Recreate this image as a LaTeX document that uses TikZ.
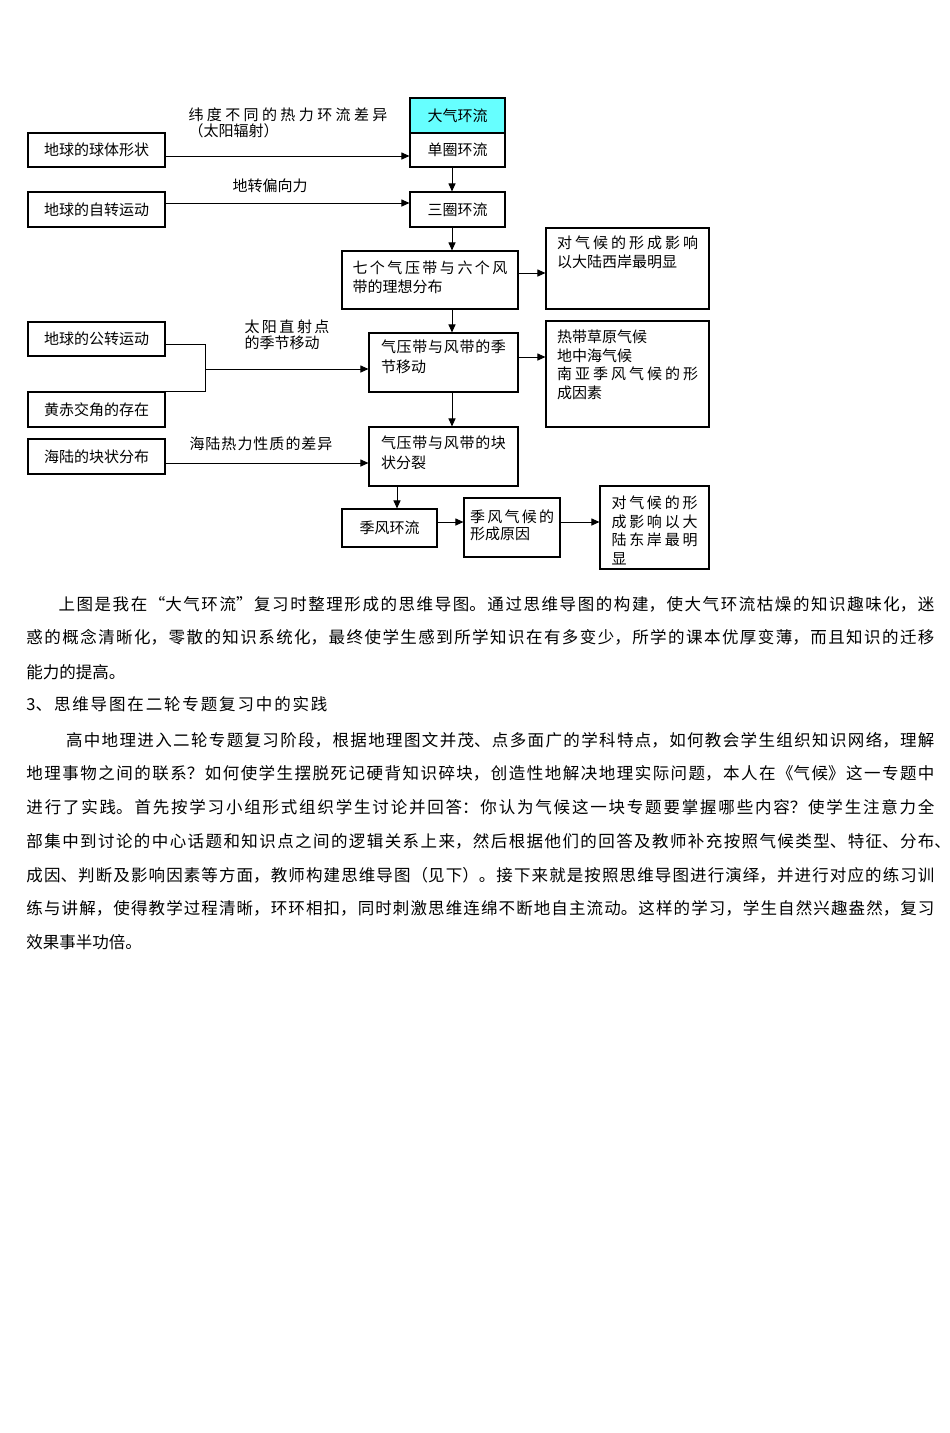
\documentclass[tikz,border=0pt]{standalone}
\usepackage{fontspec}
\setmainfont{Noto Sans CJK SC}
\usetikzlibrary{arrows.meta}

\XeTeXlinebreaklocale "zh"
\definecolor{titlecyan}{RGB}{102,255,255}
\newcommand\boxfont{\fontsize{15pt}{18.5pt}\selectfont}
\newcommand\bodyfont{\fontsize{16.5pt}{20pt}\selectfont}
% one line spread out to a given width
\newcommand\jl[2]{\parbox[t]{#1}{\XeTeXlinebreakskip=0pt plus 1fil\parfillskip=0pt\relax #2}}

\tikzset{
	box/.style={draw, line width=1.1pt, inner sep=0pt, font=\boxfont},
	lbl/.style={inner sep=0pt, font=\boxfont, align=left},
	body/.style={anchor=base west, inner sep=0pt, font=\bodyfont}
}

\begin{document}
\begin{tikzpicture}[x=1pt, y=-1pt, >={Triangle[length=8pt,width=7pt]}, line width=1pt]
	
	\fill[white] (0,0) rectangle (950,1433);
	\useasboundingbox (0,0) rectangle (950,1433);
	
	%causes on the left
	\node[box, minimum width=137pt, minimum height=34pt] (shape) at (96.5,150){地球的球体形状};
	\node[box, minimum width=137pt, minimum height=35pt] (rotation) at (96.5,209.5){地球的自转运动};
	\node[box, minimum width=137pt, minimum height=34pt] (revolution) at (96.5,339){地球的公转运动};
	\node[box, minimum width=137pt, minimum height=35pt] (obliquity) at (96.5,409.5){黄赤交角的存在};
	\node[box, minimum width=137pt, minimum height=35pt] (landsea) at (96.5,456.5){海陆的块状分布};
	
	%main chain
	\node[box, fill=titlecyan, minimum width=95pt, minimum height=35pt] (title) at (457.5,115.5){大气环流};
	\node[box, minimum width=95pt, minimum height=34pt] (single) at (457.5,150){单圈环流};
	\node[box, minimum width=95pt, minimum height=35pt] (three) at (457.5,209.5){三圈环流};
	\node[box, minimum width=176pt, minimum height=58pt, text width=155pt, align=left, text depth=25.2pt] (ideal) at (430,280){\jl{155pt}{七个气压带与六个风}\\带的理想分布};
	\node[box, minimum width=149pt, minimum height=59pt, text width=125pt, align=left, text depth=32.2pt] (season) at (443.5,362.5){\jl{125pt}{气压带与风带的季}\\[1.5pt]节移动};
	\node[box, minimum width=149pt, minimum height=59pt, text width=125pt, align=left, text depth=28.2pt] (split) at (443.5,456.5){\jl{125pt}{气压带与风带的块}\\[1.5pt]状分裂};
	\node[box, minimum width=95pt, minimum height=38pt] (monsoon) at (389.5,528){季风环流};
	
	%effects on the right
	\node[box, minimum width=163pt, minimum height=81pt, text width=141pt, align=left, text depth=52.2pt] (westcoast) at (627.5,268.5){\jl{141pt}{对气候的形成影响}\\以大陆西岸最明显};
	\node[box, minimum width=163pt, minimum height=106pt, text width=141pt, align=left, text depth=75.2pt] (climates) at (627.5,374){热带草原气候\\地中海气候\\\jl{141pt}{南亚季风气候的形}\\成因素};
	\node[box, minimum width=96pt, minimum height=59pt, text width=84pt, align=left, text depth=22.2pt] (moncause) at (512,527.5){\jl{84pt}{季风气候的}\\[-1.5pt]形成原因};
	\node[box, minimum width=109pt, minimum height=83pt, text width=86pt, align=left, text depth=50.2pt] (eastcoast) at (654.5,527.5){\jl{86pt}{对气候的形}\\\jl{86pt}{成影响以大}\\\jl{86pt}{陆东岸最明}\\显};
	
	%arrow labels
	\node[lbl, anchor=west] (latitude) at (188,122.5){\jl{199pt}{纬度不同的热力环流差异}\\[-2.5pt]（太阳辐射）};
	\node[lbl, anchor=west] (coriolis) at (232,185.5){地转偏向力};
	\node[lbl, anchor=west] (subsolar) at (244,335){\jl{85pt}{太阳直射点}\\[-2.5pt]的季节移动};
	\node[lbl, anchor=west] (thermal) at (189,443.5){\jl{143pt}{海陆热力性质的差异}};
	
	%connectors
	\draw[->] ([yshift=-6pt]shape.east) -- ([yshift=-6pt]single.west);
	\draw[->] ([yshift=6.5pt]rotation.east) -- ([yshift=6.5pt]three.west);
	\draw[->] ([xshift=-5.5pt]single.south) -- ([xshift=-5.5pt]three.north);
	\draw[->] ([xshift=-5.5pt]three.south) -- ([xshift=-5.5pt]three.south |- ideal.north);
	\draw[->] ([xshift=22pt]ideal.south) -- ([xshift=22pt]ideal.south |- season.north);
	\draw[->] ([xshift=8.5pt]season.south) -- ([xshift=8.5pt]split.north);
	\draw[->] ([xshift=-46.5pt]split.south) -- ([xshift=-46.5pt]split.south |- monsoon.north);
	
	\draw[->] ([yshift=7pt]ideal.east) -- ([yshift=7pt]ideal.east -| westcoast.west);
	\draw[->] ([yshift=5.5pt]season.east) -- ([yshift=5.5pt]season.east -| climates.west);
	\draw[->] ([yshift=6pt]monsoon.east) -- ([yshift=6pt]monsoon.east -| moncause.west);
	\draw[->] ([yshift=5.5pt]moncause.east) -- ([yshift=5.5pt]moncause.east -| eastcoast.west);
	
	\draw ([yshift=-5pt]revolution.east) -- ++(40,0) |- (obliquity.north east);
	\coordinate (join) at (205,369);
	\draw[->] (join) -- (join -| season.west);
	\draw[->] ([yshift=-6.5pt]landsea.east) -- ([yshift=-6.5pt]split.west);
	
	%text below the map
	\node[body] (t1) at (58,610.3){\jl{876pt}{上图是我在“大气环流”复习时整理形成的思维导图。通过思维导图的构建，使大气环流枯燥的知识趣味化，迷}};
	\node[body] (t2) at (26,643.8){\jl{908pt}{惑的概念清晰化，零散的知识系统化，最终使学生感到所学知识在有多变少，所学的课本优厚变薄，而且知识的迁移}};
	\node[body] (t3) at (26,678.3){能力的提高。};
	\node[body] (t4) at (26,710.3){\jl{301pt}{3、思维导图在二轮专题复习中的实践}};
	\node[body] (t5) at (65.5,746.3){\jl{868.5pt}{高中地理进入二轮专题复习阶段，根据地理图文并茂、点多面广的学科特点，如何教会学生组织知识网络，理解}};
	\node[body] (t6) at (26,779.8){\jl{908pt}{地理事物之间的联系？如何使学生摆脱死记硬背知识碎块，创造性地解决地理实际问题，本人在《气候》这一专题中}};
	\node[body] (t7) at (26,813.8){\jl{908pt}{进行了实践。首先按学习小组形式组织学生讨论并回答：你认为气候这一块专题要掌握哪些内容？使学生注意力全}};
	\node[body] (t8) at (26,847.3){\jl{908pt}{部集中到讨论的中心话题和知识点之间的逻辑关系上来，然后根据他们的回答及教师补充按照气候类型、特征、分布\rlap{、}}};
	\node[body] (t9) at (26,881.3){\jl{908pt}{成因、判断及影响因素等方面，教师构建思维导图（见下）。接下来就是按照思维导图进行演绎，并进行对应的练习训}};
	\node[body] (t10) at (26,914.8){\jl{908pt}{练与讲解，使得教学过程清晰，环环相扣，同时刺激思维连绵不断地自主流动。这样的学习，学生自然兴趣盎然，复习}};
	\node[body] (t11) at (26,948.3){效果事半功倍。};
	
\end{tikzpicture}
\end{document}
